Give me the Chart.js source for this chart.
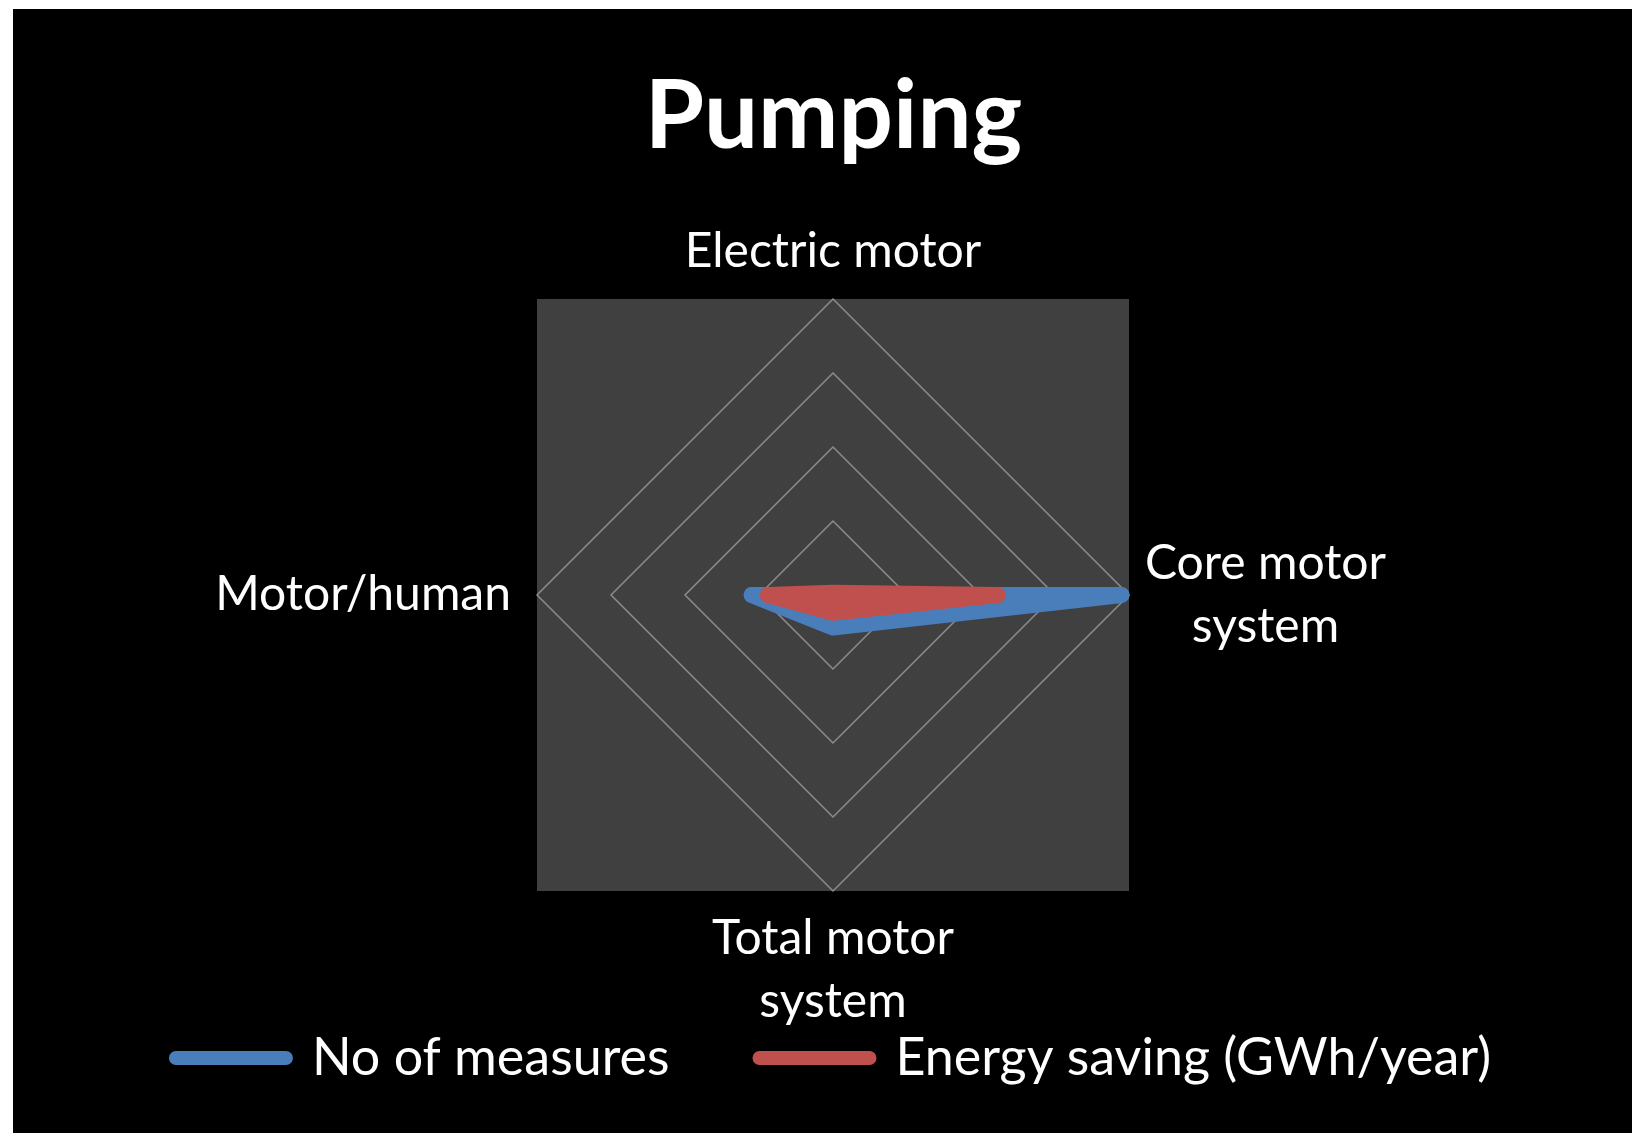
<!DOCTYPE html>
<html>
<head>
<meta charset="utf-8">
<title>Pumping</title>
<script src="https://cdn.jsdelivr.net/npm/chart.js"></script>
<style>
  html, body { margin: 0; padding: 0; background: #ffffff; }
  #wrap {
    position: absolute; left: 13px; top: 9px;
    width: 1619px; height: 1124px; background: #000000;
  }
</style>
</head>
<body>
<div id="wrap"><canvas id="myChart"></canvas></div>
<script>
// categories, clockwise from the top
let categories = ['Electric motor', 'Core motor system', 'Total motor system', 'Motor/human'];
// how each category label is broken into lines
let categoryLines = [['Electric motor'], ['Core motor', 'system'], ['Total motor', 'system'], ['Motor/human']];

let seriesNames = ['No of measures', 'Energy saving (GWh/year)'];
let noOfMeasures = [0, 39, 4.4, 11];
let energySaving = [0.3, 22.3, 2.4, 8.8];

let axisMin = 0;
let axisMax = 40;
let axisStep = 10;

let blue = '#4a7ebb';
let red = '#c0504d';
let labelFont = 'Lato';

// grey square behind the radar + category labels centred line by line
let radarDecor = {
  id: 'radarDecor',
  beforeDraw(chart) {
    let r = chart.scales.r;
    let ctx = chart.ctx;
    let d = r.drawingArea;
    ctx.save();
    ctx.fillStyle = '#404040';
    ctx.fillRect(r.xCenter - d, r.yCenter - d, d * 2, d * 2);
    ctx.restore();
  },
  afterDraw(chart) {
    let r = chart.scales.r;
    let ctx = chart.ctx;
    let size = 48;
    let lh = 63;
    ctx.save();
    ctx.font = size + 'px ' + labelFont;
    ctx.fillStyle = '#ffffff';
    ctx.textAlign = 'center';
    ctx.textBaseline = 'middle';
    categoryLines.forEach((lines, i) => {
      let deg = Math.round(r.getIndexAngle(i) * 180 / Math.PI) % 360;
      let pad = deg === 270 ? 26 : 16;
      let p = r.getPointPosition(i, r.drawingArea + pad);
      let w = Math.max(...lines.map(t => ctx.measureText(t).width));
      let h = lines.length * lh;
      let cx = p.x, top = p.y - h / 2;
      if (deg === 0) { top = p.y - h; }
      else if (deg === 180) { top = p.y; }
      else if (deg === 90) { cx = p.x + w / 2; }
      else if (deg === 270) { cx = p.x - w / 2; }
      lines.forEach((t, k) => ctx.fillText(t, cx, top + lh * k + lh / 2));
    });
    ctx.restore();
  }
};

let ctx = document.getElementById('myChart').getContext('2d');
new Chart(ctx, {
  type: 'radar',
  data: {
    labels: categories,
    datasets: [{
      label: seriesNames[0],
      data: noOfMeasures,
      borderColor: blue,
      backgroundColor: blue,
      borderWidth: 16,
      borderJoinStyle: 'round',
      borderCapStyle: 'round',
      fill: true,
      pointRadius: 0,
      tension: 0,
      order: 2
    }, {
      label: seriesNames[1],
      data: energySaving,
      borderColor: red,
      backgroundColor: red,
      borderWidth: 16,
      borderJoinStyle: 'round',
      borderCapStyle: 'round',
      fill: true,
      pointRadius: 0,
      tension: 0,
      order: 1
    }]
  },
  options: {
    responsive: true,
    maintainAspectRatio: false,
    animation: false,
    layout: { padding: { left: 22, right: 0, top: 0, bottom: 39 } },
    plugins: {
      title: {
        display: true,
        text: 'Pumping',
        color: '#ffffff',
        font: { family: labelFont, size: 96, weight: 'bold', lineHeight: 1.2 },
        padding: { top: 50, bottom: 124 }
      },
      legend: {
        position: 'bottom',
        title: {
          display: true,
          text: ' ',
          color: 'rgba(0,0,0,0)',
          font: { size: 10, lineHeight: 1.2 },
          padding: { top: 0, bottom: 38 }
        },
        labels: {
          color: '#ffffff',
          font: { family: labelFont, size: 52 },
          usePointStyle: true,
          pointStyle: 'line',
          pointStyleWidth: 110,
          padding: 90,
          sort: (a, b) => a.datasetIndex - b.datasetIndex,
          generateLabels: (chart) => {
            let items = Chart.defaults.plugins.legend.labels.generateLabels(chart);
            return items.map(item => {
              let c = chart.data.datasets[item.datasetIndex].borderColor;
              return Object.assign(item, { lineCap: 'round', lineWidth: 14, strokeStyle: c, fillStyle: c });
            });
          }
        }
      },
      tooltip: { enabled: false }
    },
    scales: {
      r: {
        min: axisMin,
        max: axisMax,
        ticks: { display: false, stepSize: axisStep },
        grid: { color: '#8c8c8c', lineWidth: 1.5 },
        angleLines: { display: false },
        pointLabels: { display: false }
      }
    }
  },
  plugins: [radarDecor]
});
</script>
</body>
</html>
